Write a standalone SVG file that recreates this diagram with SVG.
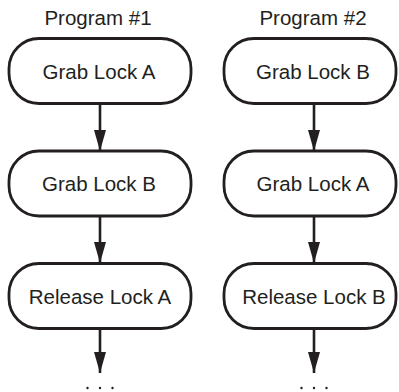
<svg xmlns="http://www.w3.org/2000/svg" width="399" height="392" viewBox="0 0 399 392">
<style>
.box{fill:#fff;stroke:#231f20;stroke-width:2.8}
.t{font-family:"Liberation Sans",Arial,sans-serif;font-size:20.5px;fill:#231f20;text-anchor:middle}
.c{stroke:#231f20;stroke-width:2.6;fill:none}
.d{fill:#231f20}
</style>
<defs>
<marker id="ah" markerUnits="userSpaceOnUse" markerWidth="21" markerHeight="12" refX="21" refY="6" orient="auto" viewBox="0 0 21 12">
<path d="M0,0 L21,6 L0,12 Z" fill="#231f20"/>
</marker>
</defs>
<rect width="399" height="392" fill="#fff"/>
<text class="t" x="98" y="25">Program #1</text>
<text class="t" x="313" y="25">Program #2</text>
<g id="connectors">
<line class="c" x1="100" y1="104" x2="100" y2="151" marker-end="url(#ah)"/>
<line class="c" x1="100" y1="216" x2="100" y2="263" marker-end="url(#ah)"/>
<line class="c" x1="100" y1="329" x2="100" y2="373" marker-end="url(#ah)"/>
<line class="c" x1="314" y1="104" x2="314" y2="151" marker-end="url(#ah)"/>
<line class="c" x1="314" y1="216" x2="314" y2="263" marker-end="url(#ah)"/>
<line class="c" x1="314" y1="329" x2="314" y2="373" marker-end="url(#ah)"/>
</g>
<g id="l1"><rect class="box" x="9" y="38.5" width="182" height="65" rx="30" ry="30"/><text class="t" x="99" y="78.5">Grab Lock A</text></g>
<g id="l2"><rect class="box" x="9" y="151" width="182" height="65" rx="30" ry="30"/><text class="t" x="99" y="191">Grab Lock B</text></g>
<g id="l3"><rect class="box" x="9" y="263.5" width="182" height="65" rx="30" ry="30"/><text class="t" x="100" y="303.5">Release Lock A</text></g>
<g id="r1"><rect class="box" x="224" y="38.5" width="172" height="65" rx="30" ry="30"/><text class="t" x="313" y="78.5">Grab Lock B</text></g>
<g id="r2"><rect class="box" x="224" y="151" width="172" height="65" rx="30" ry="30"/><text class="t" x="313" y="191">Grab Lock A</text></g>
<g id="r3"><rect class="box" x="224" y="263.5" width="172" height="65" rx="30" ry="30"/><text class="t" x="314" y="303.5">Release Lock B</text></g>
<g id="dots">
<circle class="d" cx="87.5" cy="388" r="1.2"/><circle class="d" cx="100" cy="388" r="1.2"/><circle class="d" cx="112.5" cy="388" r="1.2"/>
<circle class="d" cx="301.5" cy="388" r="1.2"/><circle class="d" cx="314" cy="388" r="1.2"/><circle class="d" cx="326.5" cy="388" r="1.2"/>
</g>
</svg>
